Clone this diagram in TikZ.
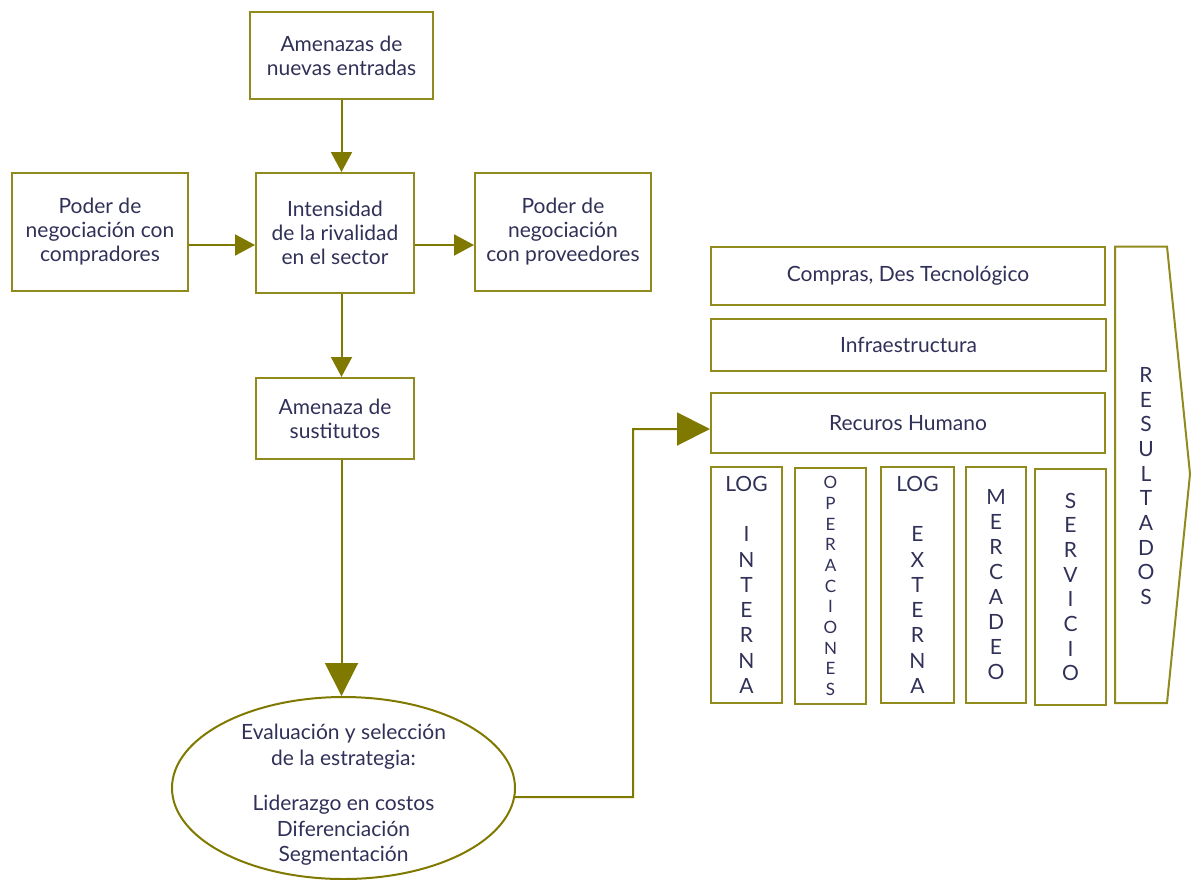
\documentclass[tikz,border=0pt]{standalone}
\usepackage{fontspec}
\setmainfont{Lato}
\usetikzlibrary{arrows.meta,shapes.geometric,calc}
\definecolor{oliveline}{RGB}{128,121,0}
\definecolor{olivebox}{RGB}{145,139,30}
\definecolor{txt}{RGB}{48,48,88}
\begin{document}
\begin{tikzpicture}[x=1pt,y=-1pt,
  box/.style={draw=olivebox, line width=2pt, align=center, text=txt, inner sep=0pt,
    font=\fontsize{21}{24}\selectfont},
  col/.style={box, minimum height=236pt, font=\fontsize{21}{25.3}\selectfont},
  conn/.style={draw=oliveline, line width=2pt},
  arr/.style={conn, -{Triangle[length=20pt,width=21pt]}},
  bigarr/.style={conn, -{Triangle[length=33pt,width=33pt]}},
]
\useasboundingbox (0,0) rectangle (1193,879);

% Porter's five forces
\node[box, minimum width=183pt, minimum height=87pt] (amen) at (341.5,55.5)
  {Amenazas de\\nuevas entradas};
\node[box, minimum width=176pt, minimum height=118pt] (comp) at (100,232)
  {Poder de\\negociación con\\compradores};
\node[box, minimum width=158pt, minimum height=120pt] (inten) at (335,233)
  {Intensidad\\de la rivalidad\\en el sector};
\node[box, minimum width=176pt, minimum height=118pt] (prov) at (563,232)
  {Poder de\\negociación\\con proveedores};
\node[box, minimum width=158pt, minimum height=81pt] (sust) at (335,418.5)
  {Amenaza de\\sustitutos};
\node[draw=oliveline, line width=2pt, ellipse, minimum width=343pt, minimum height=182pt,
  inner sep=0pt] (ell) at (343.5,788) {};
\node[align=center, text=txt, font=\fontsize{21}{25.5}\selectfont] (elltxt) at (343.5,795)
  {Evaluación y selección\\de la estrategia:\\[20pt]Liderazgo en costos\\Diferenciación\\Segmentación};

% connectors
\draw[arr] (amen.south) -- (amen.south |- inten.north);
\path (comp.east) ++(0,13) coordinate (a1);
\draw[arr] (a1) -- (a1 -| inten.west);
\path (inten.east) ++(0,12) coordinate (a2);
\draw[arr] (a2) -- (a2 -| prov.west);
\draw[arr] (amen.south |- inten.south) -- (amen.south |- sust.north);
\draw[bigarr] (amen.south |- sust.south) -- (amen.south |- ell.north);

% value chain
\node[box, minimum width=394pt, minimum height=58pt] (compras) at (908,276)
  {Compras, Des Tecnológico};
\node[box, minimum width=395pt, minimum height=52pt] (infra) at (908.5,345)
  {Infraestructura};
\node[box, minimum width=394pt, minimum height=60pt] (rh) at (908,423)
  {Recuros Humano};

\node[col, minimum width=71pt] (c1) at (746.5,585)
  {LOG\\[24.7pt]I\\N\\T\\E\\R\\N\\A};
\node[col, minimum width=71pt, font=\fontsize{17}{20.7}\selectfont] (c2) at (830.5,586)
  {O\\P\\E\\R\\A\\C\\I\\O\\N\\E\\S};
\node[col, minimum width=73pt] (c3) at (917.5,585)
  {LOG\\[24.7pt]E\\X\\T\\E\\R\\N\\A};
\node[col, minimum width=60pt, font=\fontsize{21}{25}\selectfont] (c4) at (996,585)
  {M\\E\\R\\C\\A\\D\\E\\O};
\node[col, minimum width=71pt, font=\fontsize{21}{24.7}\selectfont] (c5) at (1070.5,587)
  {S\\E\\R\\V\\I\\C\\I\\O};

% RESULTADOS arrow shape
\coordinate (r1) at (1115,246.5);
\coordinate (r2) at (1167,246.5);
\coordinate (r3) at (1190,474);
\coordinate (r4) at (1167,703);
\coordinate (r5) at (1115,703);
\draw[draw=olivebox, line width=2pt, line join=miter] (r1) -- (r2) -- (r3) -- (r4) -- (r5) -- cycle;
\node[align=center, text=txt, inner sep=0pt, font=\fontsize{21}{24.7}\selectfont] (res) at (1146,486)
  {R\\E\\S\\U\\L\\T\\A\\D\\O\\S};

% strategy to value chain
\coordinate (b1) at (633,797);
\path (rh.west) ++(0,6) coordinate (b2);
\draw[bigarr] (ell.-3.3) -- (b1) |- (b2);
\end{tikzpicture}
\end{document}
